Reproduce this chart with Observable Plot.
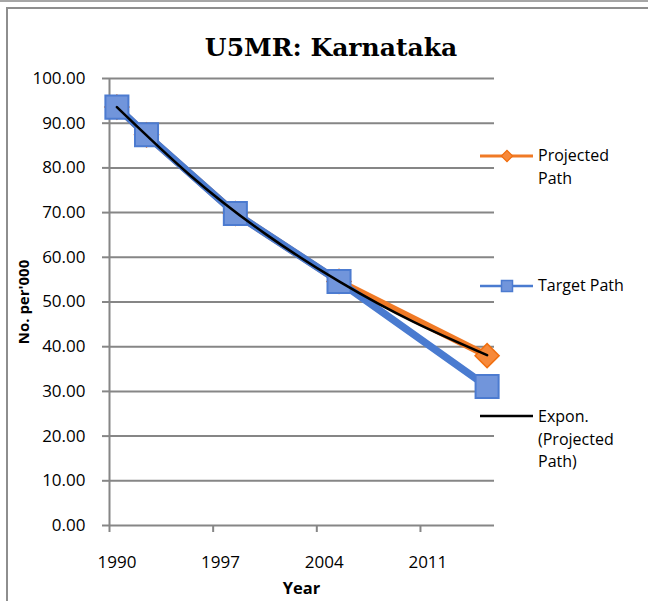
<!DOCTYPE html>
<html>
<head>
<meta charset="utf-8">
<script src="https://cdn.jsdelivr.net/npm/d3@7"></script>
<script src="https://cdn.jsdelivr.net/npm/@observablehq/plot@0.6"></script>
<style>
  body { margin: 0; background: #fff; }
  #wrap { position: relative; width: 648px; height: 601px; overflow: hidden; background: #fff; font-family: "Open Sans", sans-serif; }
  #topline { position: absolute; left: 0; top: 0; width: 648px; height: 2px; background: #a6a6a6; }
  #box { position: absolute; left: 6px; top: 7px; width: 700px; height: 700px; border-left: 2px solid #8e8e8e; border-top: 2px solid #8e8e8e; }
  #chart { position: absolute; left: 0; top: 0; }
  #title { position: absolute; left: 0; width: 662px; top: 33px; text-align: center; font-family: "DejaVu Serif", serif; font-weight: bold; font-size: 25px; line-height: 30px; color: #000; }
  #ytitle { position: absolute; left: 23px; top: 302px; transform: translate(-50%, -50%) rotate(-90deg); font-weight: bold; font-size: 15px; white-space: nowrap; color: #000; }
  #xtitle { position: absolute; left: 0; width: 603px; top: 577px; text-align: center; font-weight: bold; font-size: 16.5px; line-height: 22px; color: #000; }
  .leg { position: absolute; left: 538px; font-size: 16px; line-height: 22.5px; color: #000; }
  #legsvg { position: absolute; left: 0; top: 0; }
</style>
</head>
<body>
<div id="wrap">
  <div id="topline"></div>
  <div id="box"></div>
  <div id="chart"></div>
  <div id="title">U5MR: Karnataka</div>
  <div id="ytitle">No. per'000</div>
  <div id="xtitle">Year</div>
  <svg id="legsvg" width="648" height="601">
    <line x1="480" x2="533" y1="156" y2="156" stroke="#F07A26" stroke-width="3"/>
    <rect x="503" y="152" width="8" height="8" fill="#F7893A" stroke="#F06F10" stroke-width="1.2" transform="rotate(45 507 156)"/>
    <line x1="480" x2="533" y1="286" y2="286" stroke="#4A7BD0" stroke-width="2.5"/>
    <rect x="501.5" y="280.5" width="11" height="11" fill="#7195DB" stroke="#4C7BD0" stroke-width="1.5"/>
    <line x1="480" x2="533" y1="416" y2="416" stroke="#000" stroke-width="2.5"/>
  </svg>
  <div class="leg" style="top:144px">Projected<br>Path</div>
  <div class="leg" style="top:274px">Target Path</div>
  <div class="leg" style="top:405px">Expon.<br>(Projected<br>Path)</div>
</div>
<script>
// Under-five mortality (per 1000 live births), Karnataka
const years = [1990, 1992, 1998, 2005, 2015];
const targetPath = [93.6, 87.4, 69.8, 54.6, 31.1];
const projectedPath = [93.6, 87.4, 69.8, 54.6, 38.0];

// Exponential trend of the projected path, read at five-year steps
const trendYears = [1990, 1995, 2000, 2005, 2010, 2015];
const trendValues = [93.6, 78.2, 65.3, 54.6, 45.6, 38.1];

// Axis ticks
const yTicks = [0, 10, 20, 30, 40, 50, 60, 70, 80, 90, 100];
const xTickLabels = [1990, 1997, 2004, 2011];
const xExtent = [1989.5, 2015.5]; // one band per year, 1990–2015
const xTickMarks = xTickLabels.map(d => d - 0.5);

const targetData = years.map((year, i) => ({year, value: targetPath[i]}));
const projectedData = years.map((year, i) => ({year, value: projectedPath[i]}));
const trendData = trendYears.map((year, i) => ({year, value: trendValues[i]}));

const gray = "#868686";

const chart = Plot.plot({
  width: 648,
  height: 601,
  marginLeft: 109,
  marginRight: 154,
  marginTop: 78,
  marginBottom: 76,
  style: {fontFamily: "Open Sans, sans-serif", fontSize: "17px", color: "#000", background: "transparent", overflow: "visible"},
  x: {domain: xExtent},
  y: {domain: [0, 100]},
  marks: [
    Plot.gridY(yTicks, {stroke: gray, strokeOpacity: 1, strokeWidth: 2}),
    Plot.axisY({ticks: yTicks, tickSize: 7, tickPadding: 17, tickFormat: d => d.toFixed(2), stroke: gray, strokeWidth: 2, label: null}),
    Plot.ruleX([xExtent[0]], {stroke: gray, strokeWidth: 2}),
    Plot.axisX({ticks: xTickMarks, tickSize: 7, tickFormat: () => "", stroke: gray, strokeWidth: 2, label: null}),
    Plot.axisX({ticks: xTickLabels, tickSize: 0, tickPadding: 30, tickFormat: d => String(d), label: null}),
    Plot.line(projectedData, {x: "year", y: "value", stroke: "#F07A26", strokeWidth: 7, strokeLinejoin: "round"}),
    Plot.dot(projectedData, {x: "year", y: "value", symbol: "square", r: 9.6, rotate: 45, fill: "#F7893A", stroke: "#F06F10", strokeWidth: 1.5}),
    Plot.line(targetData, {x: "year", y: "value", stroke: "#4A7BD0", strokeWidth: 7.5, strokeLinejoin: "round"}),
    Plot.dot(targetData, {x: "year", y: "value", symbol: "square", r: 13, fill: "#7195DB", stroke: "#4C7BD0", strokeWidth: 2}),
    Plot.line(trendData, {x: "year", y: "value", curve: "natural", stroke: "#000", strokeWidth: 2.5})
  ]
});
document.getElementById("chart").appendChild(chart);
</script>
</body>
</html>
